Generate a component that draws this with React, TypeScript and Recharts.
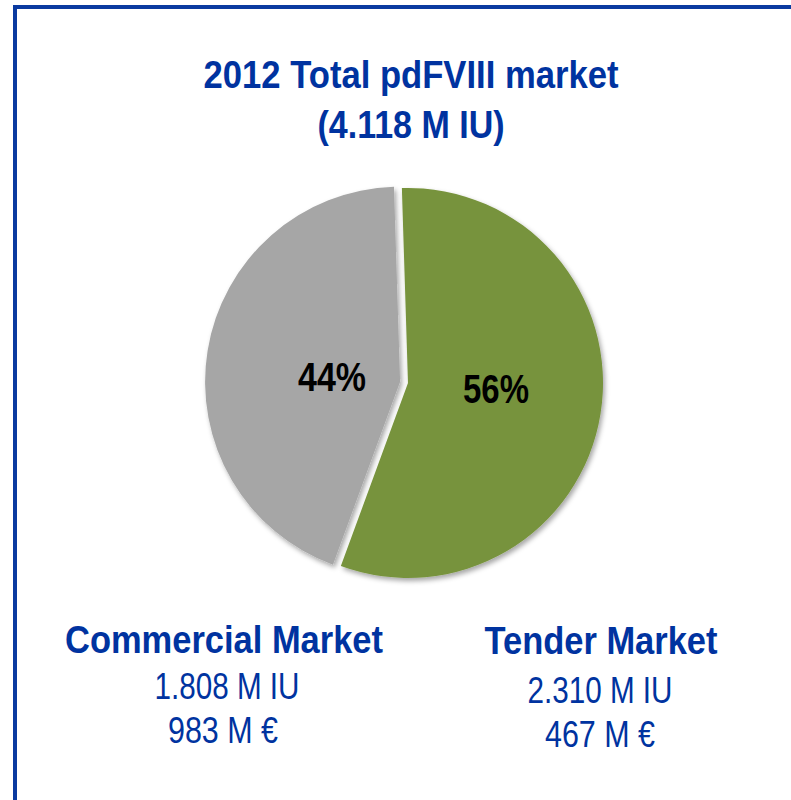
import React from 'react';
import { PieChart, Pie, Cell } from 'recharts';

// ---- data ----
const segments = ['Tender Market', 'Commercial Market'];
const volumesMIU = [2.31, 1.808];
const sharesPct = [56, 44];
const valuesMEur = [467, 983];
const titleLines = ['2012 Total pdFVIII market', '(4.118 M IU)'];
const volumeLabels = ['2.310 M IU', '1.808 M IU'];
const valueLabels = ['467 M €', '983 M €'];

// ---- style ----
const COLORS = ['#77933C', '#A6A6A6'];
const BLUE = '#0033A0';
const FRAME = '#0A3AA0';
const FONT = '"Liberation Sans Narrow", "Liberation Sans", Arial, sans-serif';

const W = 791;
const H = 800;
const CX = 408;
const CY = 383;
const R = 195;
const START = 91.8;
const EXPLODE = 8;
const LABEL_FRAC = [0.452, 0.35];
const LABEL_NUDGE = [5.6, 5];

const data = segments.map((name, i) => ({
  name,
  value: volumesMIU[i],
  share: sharesPct[i],
  eur: valuesMEur[i],
}));

const total = volumesMIU.reduce((a, b) => a + b, 0);
const span0 = (360 * volumesMIU[0]) / total;
const span1 = (360 * volumesMIU[1]) / total;
const grayMid = START - span0 - span1 / 2;
const RAD = Math.PI / 180;
const grayCX = CX + EXPLODE * Math.cos(grayMid * RAD);
const grayCY = CY - EXPLODE * Math.sin(grayMid * RAD);

const makeLabel = (visible: number) => (props: any) => {
  const { index, midAngle, outerRadius, cx, cy } = props;
  if (index !== visible) return null;
  const ang = (midAngle + LABEL_NUDGE[index]) * RAD;
  const r = outerRadius * LABEL_FRAC[index];
  const x = cx + r * Math.cos(ang);
  const y = cy - r * Math.sin(ang);
  const fs = 40;
  return (
    <text
      x={x}
      y={y + fs * 0.36}
      textAnchor="middle"
      fontFamily={FONT}
      fontWeight="bold"
      fontSize={fs}
      fill="#000"
      textLength={index === 0 ? 66 : 68}
      lengthAdjust="spacingAndGlyphs"
    >
      {`${sharesPct[index]}%`}
    </text>
  );
};

type T = { text: string; x: number; y: number; w: number; size: number; bold?: boolean };

const texts: T[] = [
  { text: titleLines[0], x: 411, y: 88, w: 415, size: 38, bold: true },
  { text: titleLines[1], x: 411, y: 138, w: 187, size: 38, bold: true },
  { text: segments[1], x: 224, y: 653, w: 318, size: 38, bold: true },
  { text: volumeLabels[1], x: 227, y: 699, w: 145, size: 36 },
  { text: valueLabels[1], x: 223, y: 743, w: 110, size: 36 },
  { text: segments[0], x: 601, y: 654, w: 233, size: 38, bold: true },
  { text: volumeLabels[0], x: 600, y: 703, w: 145, size: 36 },
  { text: valueLabels[0], x: 600, y: 747, w: 110, size: 36 },
];

export default function App() {
  return (
    <div style={{ position: 'absolute', left: 0, top: 0, width: W, height: H, background: '#fff', overflow: 'hidden' }}>
      <div
        style={{
          position: 'absolute',
          left: 13,
          top: 5,
          width: W + 20,
          height: H + 20,
          borderLeft: `4px solid ${FRAME}`,
          borderTop: `4px solid ${FRAME}`,
          boxSizing: 'border-box',
        }}
      />
      <div style={{ position: 'absolute', left: 0, top: 0 }}>
        <PieChart width={W} height={H} margin={{ top: 0, right: 0, bottom: 0, left: 0 }}>
          <defs>
            <filter id="pieShadow" x="-20%" y="-20%" width="140%" height="140%">
              <feDropShadow dx="2" dy="3" stdDeviation="2.5" floodColor="#000" floodOpacity="0.35" />
            </filter>
          </defs>
          <Pie
            data={data}
            dataKey="value"
            nameKey="name"
            cx={CX}
            cy={CY}
            outerRadius={R}
            startAngle={START}
            endAngle={START - 360}
            stroke="none"
            labelLine={false}
            label={makeLabel(0)}
            isAnimationActive={false}
          >
            {data.map((d, i) => (
              <Cell
                key={d.name}
                fill={i === 0 ? COLORS[0] : 'transparent'}
                stroke="none"
                filter={i === 0 ? 'url(#pieShadow)' : undefined}
              />
            ))}
          </Pie>
          <Pie
            data={data}
            dataKey="value"
            nameKey="name"
            cx={grayCX}
            cy={grayCY}
            outerRadius={R}
            startAngle={START}
            endAngle={START - 360}
            stroke="none"
            labelLine={false}
            label={makeLabel(1)}
            isAnimationActive={false}
          >
            {data.map((d, i) => (
              <Cell
                key={d.name}
                fill={i === 1 ? COLORS[1] : 'transparent'}
                stroke="none"
                filter={i === 1 ? 'url(#pieShadow)' : undefined}
              />
            ))}
          </Pie>
        </PieChart>
      </div>
      <svg width={W} height={H} style={{ position: 'absolute', left: 0, top: 0, pointerEvents: 'none' }}>
        {texts.map((t) => (
          <text
            key={t.text}
            x={t.x}
            y={t.y}
            textAnchor="middle"
            fontFamily={FONT}
            fontWeight={t.bold ? 'bold' : 'normal'}
            fontSize={t.size}
            fill={BLUE}
            textLength={t.w}
            lengthAdjust="spacingAndGlyphs"
          >
            {t.text}
          </text>
        ))}
      </svg>
    </div>
  );
}
